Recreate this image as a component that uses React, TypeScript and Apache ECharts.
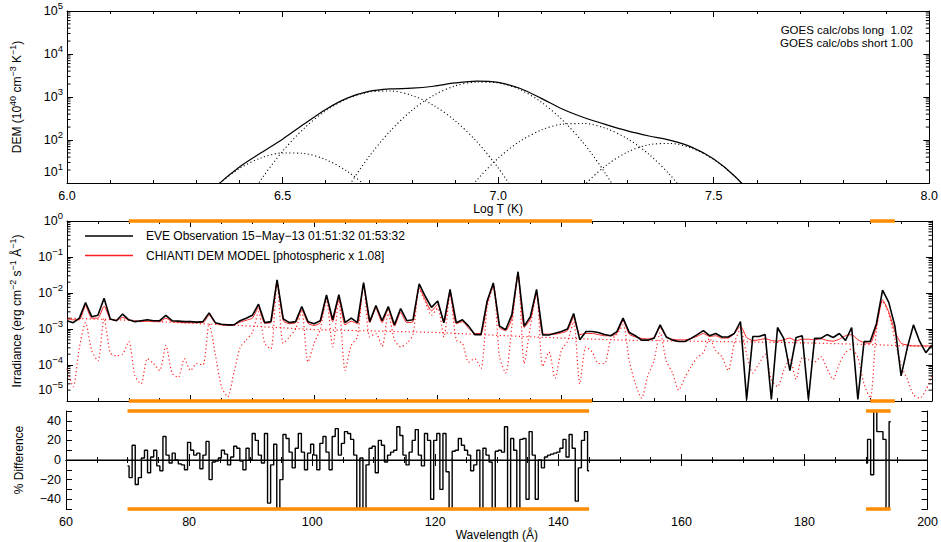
import React, { useEffect, useRef } from 'react';
import * as echarts from 'echarts';

const FONT = '"Liberation Sans", Arial, Helvetica, sans-serif';

// ---------------- Top panel: DEM ----------------
const demLogT = [6.30, 6.35, 6.40, 6.45, 6.50, 6.55, 6.60, 6.65, 6.70, 6.75, 6.80, 6.85, 6.90, 6.95,
  7.00, 7.05, 7.10, 7.15, 7.20, 7.25, 7.30, 7.35, 7.40, 7.45, 7.50, 7.55, 7.60, 7.65];
const demTotal = [2.8, 9.1, 23.6, 50.2, 104.6, 235.6, 515, 940, 1348, 1542, 1600, 1780, 2120, 2340,
  2180, 1600, 930, 520, 330, 228, 163, 124, 98, 67.4, 36, 14, 4, null];
const demComp1 = [2.8, 9.1, 21.7, 38.3, 50, 48.6, 35, 18.7, 7.4, 2.2, null, null, null, null,
  null, null, null, null, null, null, null, null, null, null, null, null, null, null];
const demComp2 = [null, null, 1.9, 11.9, 54.6, 187, 479, 914, 1300, 1377, 1089, 643, 282, 92.5,
  22.6, 4.1, null, null, null, null, null, null, null, null, null, null, null, null];
const demComp3 = [null, null, null, null, null, null, 1, 7.4, 40.4, 163, 490, 1091, 1807, 2225,
  2120, 1500, 760, 285, 80, 16, 2.4, null, null, null, null, null, null, null];
const demComp4 = [null, null, null, null, null, null, null, null, null, null, null, null, 2.6, 11.5,
  37.7, 92.7, 170.6, 234, 241.5, 186, 107, 46.2, 14.9, 3.6, null, null, null, null];
const demComp5 = [null, null, null, null, null, null, null, null, null, null, null, null, null, null,
  null, null, null, 2.2, 8.9, 25.4, 52.4, 77.8, 83.1, 63.8, 35.3, 14.0, 4.0, null];

// ---------------- Middle panel: spectra (1 Å bins, 60..200 Å) ----------------
const specStart = 60;
const eveObs = [
  1.7e-3, 1.5e-3, 2.0e-3, 5.4e-3, 2.2e-3, 2.4e-3, 7.1e-3, 1.9e-3, 1.7e-3, 2.6e-3,
  1.8e-3, 1.6e-3, 1.7e-3, 1.8e-3, 1.7e-3, 1.7e-3, 2.4e-3, 1.7e-3, 1.65e-3, 1.6e-3,
  1.6e-3, 1.55e-3, 1.6e-3, 2.8e-3, 1.5e-3, 1.35e-3, 1.3e-3, 1.3e-3, 1.7e-3, 2.0e-3,
  2.4e-3, 4.9e-3, 1.5e-3, 1.6e-3, 2.3e-2, 1.9e-3, 1.5e-3, 1.6e-3, 4.2e-3, 1.6e-3,
  1.4e-3, 1.7e-3, 8.8e-3, 1.8e-3, 9.0e-3, 1.5e-3, 2.0e-3, 1.5e-3, 1.95e-2, 1.6e-3,
  4.5e-3, 1.7e-3, 4.2e-3, 1.3e-3, 3.7e-3, 1.7e-3, 1.8e-3, 1.8e-2, 8.0e-3, 4.0e-3,
  6.0e-3, 1.5e-3, 1.26e-2, 1.5e-3, 1.8e-3, 1.2e-3, 7.0e-4, 7.0e-4, 6.0e-3, 1.9e-2,
  1.2e-3, 9.5e-4, 2.5e-3, 3.9e-2, 1.2e-3, 2.2e-3, 1.26e-2, 6.8e-4, 6.8e-4, 7.6e-4,
  8.5e-4, 1.0e-3, 2.7e-3, 5.0e-4, 8.5e-4, 8.5e-4, 8.0e-4, 7.0e-4, 6.5e-4, 8.5e-4,
  2.0e-3, 8.0e-4, 6.5e-4, 4.9e-4, 4.9e-4, 5.5e-4, 1.3e-3, 6.0e-4, 4.9e-4, 4.5e-4,
  4.5e-4, 5.5e-4, 7.0e-4, 9.0e-4, 6.5e-4, 7.5e-4, 6.0e-4, 6.0e-4, 7.5e-4, 1.6e-3,
  1.1e-5, 6.2e-4, 6.2e-4, 7.0e-4, 1.1e-5, 1.1e-3, 5.5e-4, 7.0e-5, 5.8e-4, 6.5e-4,
  1.1e-5, 5.5e-4, 5.5e-4, 7.0e-4, 5.8e-4, 7.5e-4, 4.8e-4, 1.1e-3, 1.1e-5, 4.5e-4,
  4.5e-4, 1.4e-3, 1.2e-2, 5.5e-3, 1.2e-3, 5.0e-5, 3.0e-4, 1.3e-3, 4.5e-4, 2.2e-4,
  3.6e-4,
];
const chiantiModel = [
  1.9e-3, 1.8e-3, 1.8e-3, 4.4e-3, 2.0e-3, 2.0e-3, 4.3e-3, 1.9e-3, 1.75e-3, 2.1e-3,
  1.8e-3, 1.65e-3, 1.6e-3, 1.65e-3, 1.6e-3, 1.6e-3, 2.0e-3, 1.6e-3, 1.55e-3, 1.5e-3,
  1.5e-3, 1.5e-3, 1.5e-3, 2.4e-3, 1.45e-3, 1.3e-3, 1.25e-3, 1.3e-3, 1.55e-3, 1.75e-3,
  2.0e-3, 3.9e-3, 1.45e-3, 1.5e-3, 2.0e-2, 1.7e-3, 1.4e-3, 1.5e-3, 3.4e-3, 1.45e-3,
  1.25e-3, 1.5e-3, 7.2e-3, 1.6e-3, 7.2e-3, 1.3e-3, 1.65e-3, 1.4e-3, 1.75e-2, 1.5e-3,
  3.7e-3, 1.5e-3, 3.5e-3, 1.2e-3, 2.9e-3, 1.5e-3, 1.6e-3, 1.4e-2, 6.4e-3, 3.2e-3,
  4.8e-3, 1.5e-3, 1.0e-2, 1.4e-3, 1.6e-3, 1.05e-3, 7.5e-4, 7.5e-4, 5.0e-3, 1.6e-2,
  1.1e-3, 9.0e-4, 2.0e-3, 3.4e-2, 1.1e-3, 1.9e-3, 1.0e-2, 7.2e-4, 7.2e-4, 7.2e-4,
  7.8e-4, 9.0e-4, 2.1e-3, 7.0e-4, 7.5e-4, 7.5e-4, 7.0e-4, 6.5e-4, 6.5e-4, 7.5e-4,
  1.7e-3, 7.2e-4, 6.0e-4, 5.5e-4, 5.3e-4, 5.8e-4, 1.1e-3, 6.0e-4, 5.2e-4, 5.0e-4,
  5.0e-4, 5.4e-4, 6.3e-4, 7.5e-4, 6.2e-4, 6.5e-4, 5.6e-4, 5.6e-4, 7.5e-4, 1.2e-3,
  5.8e-4, 4.8e-4, 5.0e-4, 5.4e-4, 4.8e-4, 4.6e-4, 5.0e-4, 5.6e-4, 4.7e-4, 5.2e-4,
  5.2e-4, 5.0e-4, 5.4e-4, 4.8e-4, 4.6e-4, 5.2e-4, 6.5e-4, 7.0e-4, 5.0e-4, 4.2e-4,
  4.0e-4, 1.2e-3, 6.4e-3, 3.0e-3, 8.5e-4, 4.0e-4, 3.6e-4, 3.4e-4, 3.4e-4, 3.4e-4,
  3.4e-4,
];
const chiantiLines = [
  8e-5, 2.5e-5, 3.0e-4, 1.5e-3, 2.5e-4, 1.3e-4, 2.0e-3, 2.2e-4, 1.8e-4, 2.0e-4,
  4.5e-4, 5e-5, 3e-5, 1.5e-4, 1.1e-4, 7e-5, 3.5e-4, 6e-5, 4.5e-5, 1.5e-4,
  7e-5, 1.1e-4, 1.0e-4, 1.4e-3, 2.0e-4, 2.5e-5, 1.3e-5, 6e-5, 3e-4, 5e-4,
  8e-4, 3.0e-3, 4e-4, 2.8e-4, 1.9e-2, 4e-4, 6e-4, 1.0e-3, 3.0e-3, 1.2e-4,
  4e-4, 1.0e-3, 6.3e-3, 3.2e-4, 6.3e-3, 7e-5, 3.5e-4, 6e-4, 1.65e-2, 6e-4,
  7.5e-4, 3.3e-4, 2.7e-3, 5e-4, 3.2e-4, 4e-4, 7e-4, 1.3e-2, 5.5e-3, 2.4e-3,
  3.8e-3, 6e-4, 9.2e-3, 5e-4, 4e-4, 1.2e-4, 1.5e-4, 8e-5, 4.0e-3, 1.5e-2,
  1.7e-4, 6e-5, 1.2e-3, 3.3e-2, 1.1e-4, 1.2e-3, 9.4e-3, 9e-5, 2.3e-4, 4.3e-5,
  2.5e-4, 4.5e-4, 1.6e-3, 3e-5, 3.2e-4, 2.3e-4, 1.1e-4, 1.1e-4, 5e-4, 7e-4,
  1.3e-3, 1.3e-4, 3e-5, 1.2e-5, 5e-5, 1.3e-4, 8e-4, 1.3e-4, 6e-5, 2.0e-5,
  4.5e-5, 9e-5, 1.6e-4, 2.2e-4, 5.5e-4, 2.5e-4, 1.7e-4, 7e-5, 4e-4, 1.0e-3,
  2.0e-4, 6e-5, 1.1e-4, 2.0e-4, 4e-5, 2.5e-5, 7e-5, 1.5e-4, 4e-5, 1.6e-4,
  1.4e-4, 1.2e-4, 1.7e-4, 8e-5, 4e-5, 1.1e-4, 2.2e-4, 2.8e-4, 1.6e-4, 3e-5,
  1.2e-5, 9e-4, 6.0e-3, 2.6e-3, 5e-4, 1.0e-4, 4e-5, 1.5e-5, 1.2e-5, 2e-5,
  5e-5,
];
const contWave = [60, 70, 80, 90, 100, 110, 120, 130, 140, 150, 160, 170, 180, 190, 200];
const contVal = [2.0e-3, 1.75e-3, 1.45e-3, 1.2e-3, 9.6e-4, 8.8e-4, 8.0e-4, 6.6e-4, 5.6e-4, 4.9e-4,
  4.6e-4, 4.4e-4, 4.1e-4, 3.7e-4, 3.2e-4];

// ---------------- Bottom panel: % difference (0.5 Å bins) ----------------
const diffStartA = 70;
const diffA = [
  -6, -18, 15, -25, -18, 2, 10, -13, 3, 10,
  -6, -11, 24, 5, -3, 7, 0, -4, -5, -10,
  18, 10, 5, 7, -9, 5, 19, -20, -2, -1,
  2, 10, 6, -5, 3, 14, 12, -1, -10, 12,
  0, 27, 20, 5, -3, 27, -44, -5, 16, -55,
  -20, 26, 22, 8, -8, 12, 27, 8, -10, 7,
  16, 5, -10, 17, 24, 8, -10, 24, 32, 5,
  17, 29, 27, 21, 5, -55, 2, -55, -5, 12,
  14, -13, 20, 15, -2, 5, 8, 10, 34, 25,
  5, -5, 8, 20, 31, 5, -6, 27, 20, -40,
  20, 27, -30, 27, -12, -55, 9, 10, 22, 15,
  10, 5, -11, -5, 10, -55, 12, 5, -2, -55,
  9, 10, 8, 34, -49, 22, 10, -55, 21, 22,
  -40, 29, 5, -40, 0, -8, 3, 5, 6, 7,
  8, 12, 21, 3, 26, 12, -42, -8, 20, 29,
  -11,
];
const diffStartB = 190;
const diffB = [-3, 21, -15, 55, 29, 29, 21, -55, 39];

// Fitting ranges marked in orange
const fitRanges = [[70, 145], [190, 194]];

// GOES ratios and legend
const goesLines = ['GOES calc/obs long  1.02', 'GOES calc/obs short 1.00'];
const legendItems = [
  { label: 'EVE Observation 15\u2212May\u221213 01:51:32 01:53:32', color: '#000000' },
  { label: 'CHIANTI DEM MODEL [photospheric x 1.08]', color: '#ff2020' },
];

function pairs(start: number, step: number, vals: (number | null)[]) {
  return vals.map((v, i) => [start + i * step, v]);
}
function logMinor(lo: number, hi: number) {
  const out: number[] = [];
  for (let e = lo; e < hi; e++) for (let m = 2; m <= 9; m++) out.push(m * Math.pow(10, e));
  return out;
}
function expLabel(v: number) {
  const e = Math.round(Math.log10(v));
  return `{b|10}{s|${e < 0 ? '\u2212' + -e : e}}`;
}
const richTick = {
  b: { fontSize: 12.5, fontFamily: FONT, color: '#000' },
  s: { fontSize: 9.5, fontFamily: FONT, color: '#000', padding: [0, 0, 12, 0] },
};
const richName = {
  n: { fontSize: 12, fontFamily: FONT, color: '#000' },
  s: { fontSize: 9, fontFamily: FONT, color: '#000', padding: [0, 0, 9, 0] },
};

const axisLine = { show: true, lineStyle: { color: '#000', width: 1 } };
const tick = { show: true, inside: true, length: 6, lineStyle: { color: '#000', width: 1 } };

function xAxisDef(grid: number, pos: 'top' | 'bottom', min: number, max: number, interval: number,
  minorSplit: number, labels: boolean, name?: string, fmt?: (v: number) => string) {
  return {
    type: 'value', gridIndex: grid, position: pos, min, max, interval,
    axisLine, axisTick: tick,
    minorTick: { show: true, splitNumber: minorSplit, length: 3, lineStyle: { color: '#000', width: 1 } },
    splitLine: { show: false },
    axisLabel: { show: labels, color: '#000', fontSize: 12.5, fontFamily: FONT, margin: 6, formatter: fmt },
    name: name || '', nameLocation: 'middle', nameGap: 18,
    nameTextStyle: { color: '#000', fontSize: 12, fontFamily: FONT },
  };
}
function logYAxis(grid: number, pos: 'left' | 'right', min: number, max: number, split: number, labels: boolean, name?: string) {
  return {
    type: 'log', logBase: 10, gridIndex: grid, position: pos, min, max, splitNumber: split,
    axisLine, axisTick: tick, splitLine: { show: false },
    axisLabel: {
      show: labels, formatter: expLabel, rich: richTick, margin: 4,
      verticalAlignMinLabel: 'bottom',
    },
    name: name || '', nameLocation: 'middle', nameGap: 41, nameRotate: 90,
    nameTextStyle: { rich: richName, fontSize: 12, fontFamily: FONT, color: '#000' },
  };
}
function minorTickSeries(xi: number, yi: number, xmin: number, xmax: number, ticks: number[]) {
  return {
    type: 'custom', xAxisIndex: xi, yAxisIndex: yi, silent: true, clip: false, z: 5,
    data: ticks.map((v) => [xmin, v]),
    encode: { x: 0, y: 1 },
    renderItem: (_p: any, api: any) => {
      const v = api.value(1);
      const l = api.coord([xmin, v]);
      const r = api.coord([xmax, v]);
      return {
        type: 'group',
        children: [
          { type: 'line', shape: { x1: l[0], y1: l[1], x2: l[0] + 3.5, y2: l[1] }, style: { stroke: '#000', lineWidth: 1 } },
          { type: 'line', shape: { x1: r[0] - 3.5, y1: r[1], x2: r[0], y2: r[1] }, style: { stroke: '#000', lineWidth: 1 } },
        ],
      };
    },
  };
}
function orangeSeries(xi: number, yi: number, yv: number) {
  const data: any[] = [];
  fitRanges.forEach((r, i) => {
    if (i > 0) data.push([(fitRanges[i - 1][1] + r[0]) / 2, null]);
    data.push([r[0], yv], [r[1], yv]);
  });
  return {
    type: 'line', xAxisIndex: xi, yAxisIndex: yi, data, symbol: 'none', clip: false, z: 10,
    silent: true, connectNulls: false,
    lineStyle: { color: '#ff8c00', width: 3.5 },
  };
}

const demSeries = (vals: (number | null)[], solid: boolean) => ({
  type: 'line', xAxisIndex: 0, yAxisIndex: 0, symbol: 'none', smooth: 0.3,
  data: demLogT.map((t, i) => [t, vals[i]]),
  lineStyle: solid ? { color: '#000', width: 1.2 } : { color: '#000', width: 1.1, type: [1.1, 2.6] },
  silent: true,
});

function buildOption() {
  const graphics: any[] = [];
  legendItems.forEach((it, i) => {
    const y = 236 + i * 19.5;
    graphics.push({ type: 'line', shape: { x1: 85, y1: y, x2: 133, y2: y }, style: { stroke: it.color, lineWidth: 1.3 } });
    graphics.push({
      type: 'text', x: 146, y,
      style: { text: it.label, fill: '#000', fontSize: 12, fontFamily: FONT, align: 'left', verticalAlign: 'middle', textAlign: 'left', textVerticalAlign: 'middle' },
    });
  });
  goesLines.forEach((t, i) => {
    graphics.push({
      type: 'text', x: 913, y: 30 + i * 12.5,
      style: { text: t, fill: '#000', fontSize: 11.5, fontFamily: FONT, align: 'right', verticalAlign: 'middle', textAlign: 'right', textVerticalAlign: 'middle' },
    });
  });

  return {
    animation: false,
    backgroundColor: '#fff',
    textStyle: { fontFamily: FONT, color: '#000' },
    grid: [
      { left: 66, top: 9, width: 866, height: 174 },
      { left: 66, top: 221, width: 866, height: 180 },
      { left: 66, top: 411, width: 866, height: 98 },
    ],
    xAxis: [
      xAxisDef(0, 'bottom', 6, 8, 0.5, 5, true, 'Log T (K)', (v: number) => v.toFixed(1)),
      xAxisDef(0, 'top', 6, 8, 0.5, 5, false),
      xAxisDef(1, 'bottom', 60, 200, 20, 4, false),
      xAxisDef(1, 'top', 60, 200, 20, 4, false),
      xAxisDef(2, 'bottom', 60, 200, 20, 4, true, 'Wavelength (\u00c5)', (v: number) => String(v)),
      xAxisDef(2, 'top', 60, 200, 20, 4, false),
    ],
    yAxis: [
      logYAxis(0, 'left', 10, 1e5, 4, true, '{n|DEM (10}{s|40}{n| cm}{s|\u22123}{n| K}{s|\u22121}{n|)}'),
      logYAxis(0, 'right', 10, 1e5, 4, false),
      logYAxis(1, 'left', 1e-5, 1, 5, true, '{n|Irradiance (erg cm}{s|\u22122}{n| s}{s|\u22121}{n| \u00c5}{s|\u22121}{n|)}'),
      logYAxis(1, 'right', 1e-5, 1, 5, false),
      {
        type: 'value', gridIndex: 2, position: 'left', min: -50, max: 50, interval: 10,
        axisLine, axisTick: tick, splitLine: { show: false },
        axisLabel: {
          color: '#000', fontSize: 12.5, fontFamily: FONT, margin: 5,
          formatter: (v: number) => (v % 20 === 0 && Math.abs(v) < 50 ? (v < 0 ? '\u2212' + -v : String(v)) : ''),
        },
        name: '% Difference', nameLocation: 'middle', nameGap: 41, nameRotate: 90,
        nameTextStyle: { color: '#000', fontSize: 12, fontFamily: FONT },
      },
      {
        type: 'value', gridIndex: 2, position: 'right', min: -50, max: 50, interval: 10,
        axisLine, axisTick: tick, splitLine: { show: false }, axisLabel: { show: false },
      },
    ],
    graphic: graphics,
    series: [
      // DEM
      demSeries(demComp1, false),
      demSeries(demComp2, false),
      demSeries(demComp3, false),
      demSeries(demComp4, false),
      demSeries(demComp5, false),
      demSeries(demTotal, true),
      minorTickSeries(0, 0, 6, 8, logMinor(1, 5)),
      // Spectra
      {
        type: 'line', xAxisIndex: 2, yAxisIndex: 2, symbol: 'none', silent: true,
        data: contWave.map((w, i) => [w, contVal[i]]),
        lineStyle: { color: '#ff2020', width: 1.2, type: [1.2, 2.6] },
      },
      {
        type: 'line', xAxisIndex: 2, yAxisIndex: 2, symbol: 'none', silent: true, smooth: 0.25,
        data: pairs(specStart, 1, chiantiLines),
        lineStyle: { color: '#ff2020', width: 1.2, type: [1.2, 2.6] },
      },
      {
        type: 'line', xAxisIndex: 2, yAxisIndex: 2, symbol: 'none', silent: true, smooth: 0.2,
        data: pairs(specStart, 1, chiantiModel),
        lineStyle: { color: '#ff2020', width: 1 },
      },
      {
        type: 'line', xAxisIndex: 2, yAxisIndex: 2, symbol: 'none', silent: true,
        data: pairs(specStart, 1, eveObs),
        lineStyle: { color: '#000', width: 1.6 },
      },
      minorTickSeries(2, 2, 60, 200, logMinor(-5, 0)),
      orangeSeries(2, 2, 1),
      orangeSeries(2, 2, 1e-5),
      // Difference
      {
        type: 'line', xAxisIndex: 4, yAxisIndex: 4, symbol: 'none', silent: true,
        data: [[60, 0], [200, 0]], lineStyle: { color: '#000', width: 1 },
      },
      {
        type: 'line', xAxisIndex: 4, yAxisIndex: 4, symbol: 'none', silent: true, step: 'middle',
        data: pairs(diffStartA, 0.5, diffA), lineStyle: { color: '#000', width: 1.4 },
      },
      {
        type: 'line', xAxisIndex: 4, yAxisIndex: 4, symbol: 'none', silent: true, step: 'middle',
        data: pairs(diffStartB, 0.5, diffB), lineStyle: { color: '#000', width: 1.4 },
      },
      orangeSeries(4, 4, 50),
      orangeSeries(4, 4, -50),
    ],
  };
}

export default function App() {
  const ref = useRef<HTMLDivElement>(null);
  useEffect(() => {
    const chart = echarts.init(ref.current!, null, { renderer: 'svg' });
    chart.setOption(buildOption() as any);
    return () => chart.dispose();
  }, []);
  return <div ref={ref} style={{ position: 'absolute', left: 0, top: 0, width: 941, height: 542 }} />;
}
